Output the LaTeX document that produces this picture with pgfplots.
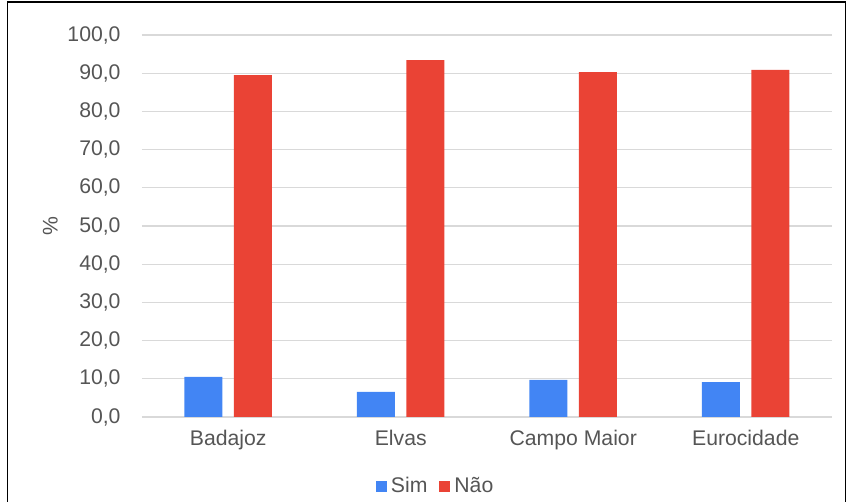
\documentclass[border=0pt]{standalone}
\usepackage{fontspec}
\setmainfont{Liberation Sans}
\usepackage{pgfplots}
\pgfplotsset{compat=1.18}
\definecolor{simc}{HTML}{4285F4}
\definecolor{naoc}{HTML}{EA4335}
\definecolor{gridc}{HTML}{D9D9D9}
\definecolor{txtc}{HTML}{555555}
\begin{document}
\fontsize{10.6}{12.7}\selectfont
\begin{tikzpicture}
\useasboundingbox (0,0) rectangle (423.5pt,251pt);
\draw[black, line width=0.6pt] (3.8pt,-1pt) -- (3.8pt,250pt) -- (422.8pt,250pt) -- (422.8pt,-1pt);
\begin{axis}[
  at={(71pt,42.5pt)}, anchor=south west,
  scale only axis, width=345pt, height=191pt,
  ybar=5.75pt, bar width=19pt,
  xmin=-0.5, xmax=3.5, ymin=0, ymax=100,
  xtick={0,1,2,3},
  xticklabels={Badajoz,Elvas,Campo Maior,Eurocidade},
  ytick={0,10,...,100},
  major tick length=0pt,
  axis line style={draw=none},
  ymajorgrids, grid style={gridc, line width=0.6pt},
  tick label style={font=\fontsize{10.6}{12.7}\selectfont, text=txtc},
  /pgf/number format/.cd, fixed, fixed zerofill, precision=1, use comma, assume math mode=true,
  /pgfplots/.cd,
  yticklabel style={xshift=-7pt},
  xticklabel style={yshift=-3pt},
  ylabel={\%}, ylabel style={at={(axis description cs:-0.133,0.5)}, anchor=center, text=txtc, font=\fontsize{10.6}{12.7}\selectfont},
  legend style={at={(axis description cs:0.427,-0.183)}, anchor=center, draw=none, fill=none,
    legend columns=-1, font=\fontsize{10.6}{12.7}\selectfont, text=txtc,
    /tikz/every even column/.append style={column sep=4pt}},
  legend image code/.code={\fill[#1] (0pt,-2.75pt) rectangle (5.5pt,2.75pt);},
]
\addplot[fill=simc, draw=none] coordinates {(0,10.5) (1,6.6) (2,9.7) (3,9.1)};
\addplot[fill=naoc, draw=none] coordinates {(0,89.5) (1,93.4) (2,90.3) (3,90.9)};
\legend{Sim,Não}
\end{axis}
\end{tikzpicture}
\end{document}
